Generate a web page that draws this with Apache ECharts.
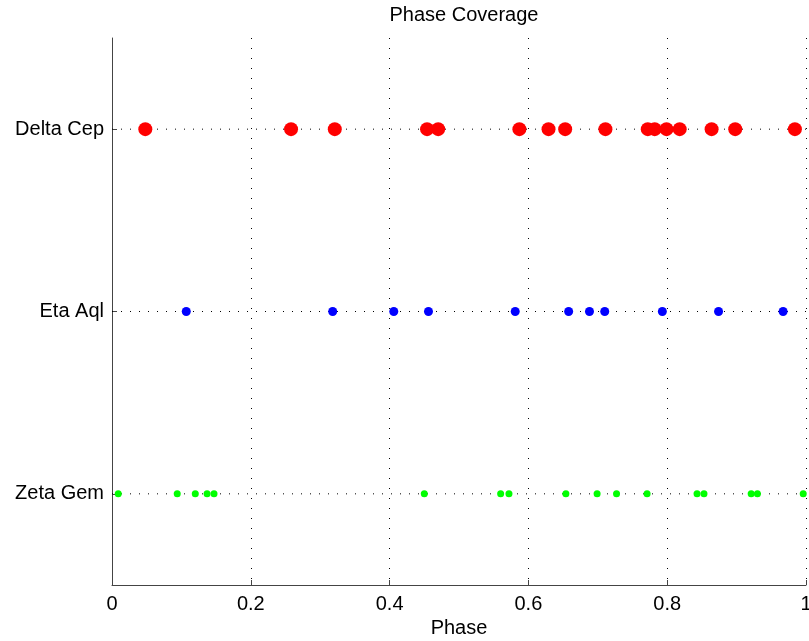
<!DOCTYPE html>
<html>
<head>
<meta charset="utf-8">
<script src="https://cdn.jsdelivr.net/npm/echarts@6/dist/echarts.min.js"></script>
<style>html,body{margin:0;padding:0;background:#fff;}#c{width:809px;height:641px;}</style>
</head>
<body>
<div id="c"></div>
<script>
var categories = ['Zeta Gem', 'Eta Aql', 'Delta Cep'];
var xTicks = [0, 0.2, 0.4, 0.6, 0.8, 1];
var deltaCep = [0.048, 0.258, 0.321, 0.454, 0.470, 0.587, 0.629, 0.653, 0.711, 0.772, 0.782, 0.799, 0.818, 0.864, 0.898, 0.984];
var etaAql = [0.107, 0.318, 0.406, 0.456, 0.581, 0.658, 0.688, 0.710, 0.793, 0.874, 0.967];
var zetaGem = [0.009, 0.094, 0.120, 0.137, 0.147, 0.450, 0.560, 0.572, 0.654, 0.699, 0.727, 0.771, 0.843, 0.853, 0.921, 0.930, 0.996];

var font = 'Liberation Sans, Arial, Helvetica, sans-serif';
function pts(arr, cat) { return arr.map(function (v) { return [v, cat]; }); }
var guideSeries = categories.map(function (c) {
  return {
    type: 'line', data: [[xTicks[0], c], [xTicks[xTicks.length - 1], c]],
    symbol: 'none', silent: true, z: 1, animation: false,
    lineStyle: { color: '#000', width: 1, type: [1, 8] }
  };
});
var chart = echarts.init(document.getElementById('c'));
chart.setOption({
  animation: false,
  backgroundColor: '#fff',
  title: {
    text: 'Phase Coverage', left: 459, top: 0, textAlign: 'center',
    textStyle: { fontFamily: font, fontSize: 20, fontWeight: 'normal', color: '#000' }
  },
  grid: { left: 112, right: 3, top: 38, bottom: 56, containLabel: false, outerBoundsMode: 'none' },
  xAxis: {
    type: 'value', min: 0, max: 1, interval: 0.2,
    name: 'Phase', nameLocation: 'middle', nameGap: 33,
    nameTextStyle: { fontFamily: font, fontSize: 20, color: '#000' },
    axisLine: { show: true, lineStyle: { color: '#444', width: 1 } },
    axisTick: { show: true, inside: true, length: 5, lineStyle: { color: '#444' } },
    axisLabel: { fontFamily: font, fontSize: 20, color: '#000', margin: 9 },
    splitLine: { show: true, lineStyle: { color: '#000', width: 1, type: [1, 9] } }
  },
  yAxis: {
    type: 'category', data: categories, boundaryGap: true,
    axisLine: { show: true, lineStyle: { color: '#444', width: 1 } },
    axisTick: { show: true, inside: true, length: 5, alignWithLabel: true, lineStyle: { color: '#444' } },
    axisLabel: { fontFamily: font, fontSize: 20, color: '#000', margin: 8 },
    splitLine: { show: false }
  },
  series: guideSeries.concat([
    { type: 'scatter', data: pts(deltaCep, 'Delta Cep'), symbolSize: 14, itemStyle: { color: '#ff0000', opacity: 1 }, z: 3 },
    { type: 'scatter', data: pts(etaAql, 'Eta Aql'), symbolSize: 9, itemStyle: { color: '#0000ff', opacity: 1 }, z: 3 },
    { type: 'scatter', data: pts(zetaGem, 'Zeta Gem'), symbolSize: 7, itemStyle: { color: '#00ff00', opacity: 1 }, z: 3 }
  ])
});
</script>
</body>
</html>
